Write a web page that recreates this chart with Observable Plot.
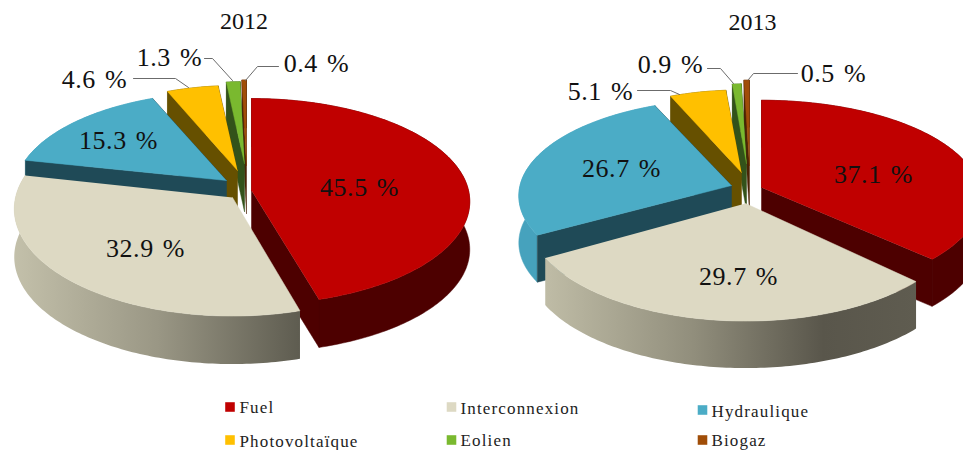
<!DOCTYPE html>
<html>
<head>
<meta charset="utf-8">
<script src="https://cdn.jsdelivr.net/npm/d3@7"></script>
<script src="https://cdn.jsdelivr.net/npm/@observablehq/plot@0.6"></script>
<style>
html,body{margin:0;padding:0;background:#fff}
svg{display:block}
.pct text{letter-spacing:.6px;word-spacing:2px}
.leg text{letter-spacing:1.15px}
</style>
</head>
<body>
<div id="chart"></div>
<script>
// ---------- data ----------
const categories = ["Fuel","Interconnexion","Hydraulique","Photovoltaïque","Eolien","Biogaz"];
const values2012 = [45.5,32.9,15.3,4.6,1.3,0.4];
const values2013 = [37.1,29.7,26.7,5.1,0.9,0.5];
const colors = ["#c00000","#ddd9c3","#4bacc6","#ffc000","#7ab92f","#a04d08"];
const wallColors = ["#4d0000",null,"#1f4a57","#665000","#33521a","#4a2304"];

// ---------- layout ----------
const pies = [
  {title:"2012", values:values2012, cx:246, cy:190, rx:217, ry:101.8, depth:48, titlePos:[243.5,21],
   off:[[5,0],[-14,7],[-20,-10],[-9,-20],[-2,-27],[0,-25]],
   sc:[[1,1],[1,1.04],[.97,.96],[.92,.925],[.87,.89],[.93,.93]],
   labels:[[359,187],[145,248],[118,140],[94,79],[169,57],[316,63]],
   leaders:[null,null,null,
     [[133,78],[175,78],[188,87]],
     [[204,58],[212,58],[232,80]],
     [[278,66],[257,66],[245,80]]],
   grad:"url(#beige12)"},
  {title:"2013", values:values2013, cx:748, cy:192, rx:218, ry:105, depth:47, titlePos:[752,22],
   off:[[13,-5],[-3,11],[-17,-7],[-7,-20],[-2,-29],[1,-27]],
   sc:[[1,.92],[1,1],[.97,.91],[.9,.87],[.82,.84],[.9,.9]],
   labels:[[873,174],[738,276],[621,168],[600,91],[670,64],[833,73]],
   leaders:[null,null,null,
     [[637,90],[670,90],[679,94]],
     [[707,68],[720,68],[733,83]],
     [[797,73],[753,73],[748,79]]],
   grad:"url(#beige13)"}
];
const persp = 0.107;
const drawOrder = [5,4,3,2,0,1];
const legendPos = [[229.5,406.5,239,407],[451,406.5,460,408],[702,409.5,711,411],
                   [229.5,439.5,239,441],[451,439.5,460,440],[702,439.5,711,440]];
const serif = "Liberation Serif";

// ---------- geometry from the values ----------
function sliceGeometry(pie){
  const total = d3.sum(pie.values);
  let acc = 0;
  return pie.values.map((v,i)=>{
    const a0 = acc/total*360; acc += v; const a1 = acc/total*360;
    const ax = pie.cx+pie.off[i][0], ay = pie.cy+pie.off[i][1];
    const n = Math.max(2,Math.ceil(a1-a0));
    const arc = d3.range(n+1).map(k=>{
      const t = (a0+(a1-a0)*k/n)*Math.PI/180;
      const u = Math.sin(t), w = -Math.cos(t), s = 1/(1-persp*w);
      return {x:ax+pie.rx*pie.sc[i][0]*u*s, y:ay+pie.ry*pie.sc[i][1]*w*s};
    });
    return {i,ax,ay,arc};
  });
}
const down = (p,d)=>({x:p.x,y:p.y+d});
function poly(points,fill){
  return Plot.line(points,{x:"x",y:"y",fill,stroke:fill.startsWith("url")?"none":fill,strokeWidth:.5});
}
const marks = [];
// gradient definitions for the shaded rims
marks.push(()=>{
  const defs = d3.create("svg:defs");
  const add=(id,stops)=>{
    const g=defs.append("linearGradient").attr("id",id).attr("x1",0).attr("x2",1).attr("y1",0).attr("y2",0);
    stops.forEach(([o,c])=>g.append("stop").attr("offset",o).attr("stop-color",c));
  };
  add("beige12",[[0,"#c3c0aa"],[.5,"#9a9785"],[1,"#5e5c50"]]);
  add("beige13",[[0,"#bfbca6"],[.4,"#918e7c"],[.75,"#59564b"],[1,"#5f5c50"]]);
  return defs.node();
});
for(const pie of pies){
  const geo = sliceGeometry(pie);
  for(const i of drawOrder){
    const {ax,ay,arc} = geo[i];
    const apex = {x:ax,y:ay};
    const d = pie.depth;
    const first = arc[0], last = arc[arc.length-1];
    const rimFill = i===1 ? pie.grad : i===2 ? "#46a2bd" : wallColors[i];
    marks.push(poly([...arc,...arc.slice().reverse().map(p=>down(p,d))],rimFill));
    const wf = wallColors[i];
    if(wf){
      marks.push(poly([apex,last,down(last,d),down(apex,d)],wf));
      marks.push(poly([apex,first,down(first,d),down(apex,d)],wf));
    }
    marks.push(poly([apex,...arc],colors[i]));
  }
  // leader lines
  pie.leaders.forEach(l=>{
    if(l) marks.push(Plot.line(l.map(([x,y])=>({x,y})),{x:"x",y:"y",stroke:"#6b6b6b",strokeWidth:1}));
  });
  // title
  marks.push(Plot.text([pie.title],{x:pie.titlePos[0],y:pie.titlePos[1],text:d=>d,fontSize:24,fontFamily:serif,fill:"#111"}));
  // percent labels
  marks.push(Plot.text(pie.values.map((v,i)=>({v,pos:pie.labels[i]})),{
    x:d=>d.pos[0],y:d=>d.pos[1],text:d=>`${d.v.toFixed(1)} %`,
    fontSize:26,fontFamily:serif,fill:"#111",className:"pct"}));
}
// legend
const legend = categories.map((name,i)=>({name,color:colors[i],p:legendPos[i]}));
marks.push(Plot.dot(legend,{x:d=>d.p[0],y:d=>d.p[1],symbol:"square",r:5.4,fill:d=>d.color,stroke:"none"}));
marks.push(Plot.text(legend,{x:d=>d.p[2],y:d=>d.p[3],text:"name",textAnchor:"start",fontSize:17,fontFamily:serif,fill:"#222",className:"leg"}));

const chart = Plot.plot({
  width:963,height:450,margin:0,
  x:{domain:[0,963],range:[0,963],axis:null},
  y:{domain:[0,450],range:[0,450],axis:null},
  color:{type:"identity"},
  style:{background:"#fff"},
  marks
});
document.getElementById("chart").appendChild(chart);
</script>
</body>
</html>
